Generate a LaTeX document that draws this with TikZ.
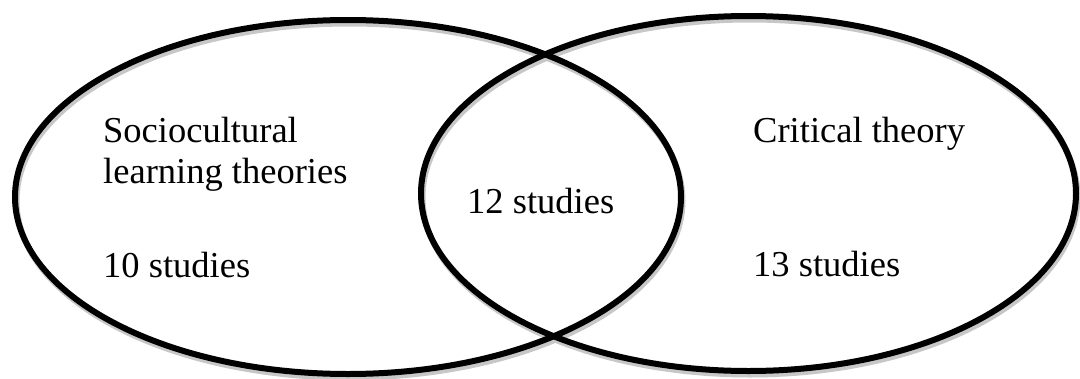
\documentclass[tikz,border=0pt]{standalone}
\usepackage{fontspec}
\setmainfont{Liberation Serif}
\usepackage{tikz}
\tikzset{
  setline/.style={line width=6pt, black},
  setshadow/.style={line width=6pt, black!22, shift={(1.5,3.5)}},
}

\begin{document}
\begin{tikzpicture}[x=1pt, y=-1pt,
    venntext/.style={anchor=base west, inner sep=0pt, align=left,
      font=\fontsize{36.5}{41}\selectfont}]
  \useasboundingbox (0,0) rectangle (1080,378);
  % soft shadows first
  \draw[setshadow] (348,197) ellipse [x radius=333, y radius=177];
  \draw[setshadow] (748.5,193.5) ellipse [x radius=327.5, y radius=177.5];
  % the two sets
  \draw[setline] (348,197) ellipse [x radius=333, y radius=177];
  \draw[setline] (748.5,193.5) ellipse [x radius=327.5, y radius=177.5];

  % base of a two-line node is its last line
  \node[venntext] (socio) at (103,183) {Sociocultural\\learning theories};
  \node[venntext] (sociocount) at (103,277) {10 studies};
  \node[venntext] (both) at (467,213) {12 studies};
  \node[venntext] (crit) at (753,142) {Critical theory};
  \node[venntext] (critcount) at (753,276) {13 studies};
\end{tikzpicture}
\end{document}
